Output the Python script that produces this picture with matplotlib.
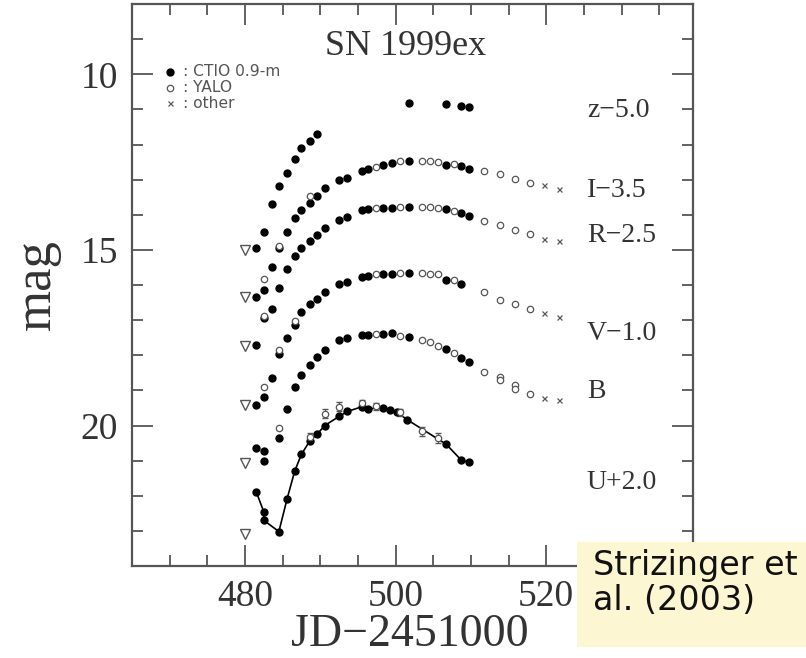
import matplotlib
matplotlib.use("Agg")
import matplotlib.pyplot as plt
from matplotlib.patches import Rectangle
from matplotlib.ticker import MultipleLocator

plt.rcParams["font.family"] = "Liberation Serif"

# --- light curve values (JD-2451000, mag) ---
# each band: CTIO 0.9-m (filled), YALO (open), other (x)
z_ctio_x = [481.5, 482.5, 483.6, 484.5, 485.6, 486.6, 487.5, 488.6, 489.6, 501.75, 506.7, 508.7, 509.7]
z_ctio_y = [14.96, 14.49, 13.68, 13.18, 12.80, 12.42, 12.10, 11.89, 11.70, 10.83, 10.86, 10.89, 10.94]

i_ctio_x = [481.5, 482.5, 483.6, 484.5, 485.6, 486.6, 487.5, 488.6, 489.6, 490.6, 492.5, 493.6,
            495.6, 496.4, 498.3, 499.5, 501.75, 506.7, 508.7, 509.7]
i_ctio_y = [16.35, 16.14, 15.49, 14.95, 14.49, 14.09, 13.87, 13.66, 13.46, 13.25, 13.01, 12.94,
            12.74, 12.69, 12.58, 12.52, 12.48, 12.58, 12.61, 12.69]
i_yalo_x = [482.5, 484.5, 488.6, 497.4, 500.6, 503.5, 504.6, 505.6, 507.7, 511.7, 513.8, 515.8, 517.8]
i_yalo_y = [15.83, 14.88, 13.48, 12.63, 12.48, 12.46, 12.48, 12.50, 12.55, 12.74, 12.84, 12.98, 13.09]
i_other_x = [519.7, 521.7]
i_other_y = [13.15, 13.27]

r_ctio_x = [481.5, 482.5, 483.6, 484.5, 485.6, 486.6, 487.5, 488.6, 489.6, 490.6, 492.5, 493.6,
            495.6, 496.4, 498.3, 499.5, 501.75, 506.7, 508.7, 509.7]
r_ctio_y = [17.71, 16.95, 16.69, 16.08, 15.54, 15.18, 14.94, 14.75, 14.58, 14.39, 14.15, 14.06,
            13.87, 13.84, 13.80, 13.80, 13.77, 13.85, 13.94, 14.03]
r_yalo_x = [482.5, 497.4, 500.6, 503.5, 504.6, 505.6, 507.7, 511.7, 513.8, 515.8, 517.8]
r_yalo_y = [16.88, 13.82, 13.79, 13.77, 13.79, 13.82, 13.89, 14.17, 14.30, 14.44, 14.56]
r_other_x = [519.7, 521.7]
r_other_y = [14.69, 14.75]

v_ctio_x = [481.5, 482.5, 483.6, 484.5, 485.6, 486.6, 487.5, 488.6, 489.6, 490.6, 492.5, 493.6,
            495.6, 496.4, 498.3, 499.5, 501.75, 506.7, 508.7]
v_ctio_y = [19.43, 19.20, 18.64, 17.95, 17.50, 17.13, 16.78, 16.54, 16.40, 16.21, 15.97, 15.92,
            15.78, 15.73, 15.68, 15.68, 15.66, 15.85, 15.97]
v_yalo_x = [482.5, 484.5, 486.6, 497.4, 500.6, 503.5, 504.6, 505.6, 507.7, 511.7, 513.8, 515.8, 517.8]
v_yalo_y = [18.91, 17.86, 17.02, 15.70, 15.66, 15.66, 15.68, 15.70, 15.87, 16.21, 16.43, 16.54, 16.69]
v_other_x = [519.7, 521.7]
v_other_y = [16.81, 16.91]

b_ctio_x = [481.5, 482.5, 482.5, 484.5, 485.6, 486.6, 487.5, 488.6, 489.6, 490.6, 492.5, 493.6,
            495.6, 496.4, 498.3, 499.5, 501.75, 506.7, 508.7, 509.7]
b_ctio_y = [20.65, 20.73, 21.01, 20.36, 19.52, 18.91, 18.57, 18.28, 18.05, 17.85, 17.57, 17.50,
            17.42, 17.41, 17.40, 17.38, 17.48, 17.83, 18.09, 18.19]
b_yalo_x = [484.5, 497.4, 500.6, 503.5, 504.6, 505.6, 507.7, 511.7, 513.8, 513.8, 515.8, 515.8, 517.8]
b_yalo_y = [20.08, 17.40, 17.45, 17.57, 17.61, 17.74, 17.93, 18.47, 18.62, 18.70, 18.86, 18.96, 19.10]
b_other_x = [519.7, 521.7]
b_other_y = [19.21, 19.27]

u_ctio_x = [481.5, 482.5, 482.5, 484.5, 485.6, 486.6, 487.5, 488.6, 489.6, 490.6, 492.5, 493.6,
            495.6, 496.4, 498.3, 499.3, 500.2, 501.5, 506.7, 508.7, 509.7]
u_ctio_y = [21.89, 22.46, 22.70, 23.02, 22.08, 21.30, 20.82, 20.44, 20.24, 20.00, 19.74, 19.60,
            19.46, 19.52, 19.50, 19.56, 19.62, 19.83, 20.53, 20.98, 21.05]
u_yalo_x = [488.6, 490.6, 492.5, 495.6, 497.4, 500.6, 503.5, 505.6]
u_yalo_y = [20.32, 19.66, 19.46, 19.37, 19.45, 19.62, 20.17, 20.36]
u_yalo_err = [0.12, 0.12, 0.12, 0.10, 0.10, 0.10, 0.14, 0.14]

# pre-discovery upper limits (z, I, R, V, B, U)
lim_x = [480, 480, 480, 480, 480, 480]
lim_y = [15.00, 16.35, 17.74, 19.41, 21.08, 23.09]

band_labels = ["z\u22125.0", "I\u22123.5", "R\u22122.5", "V\u22121.0", "B", "U+2.0"]
band_label_y = [11.02, 13.30, 14.60, 17.39, 19.03, 21.62]

legend_names = [": CTIO 0.9-m", ": YALO", ": other"]

# --- figure ---
fig = plt.figure(figsize=(8.06, 6.58), dpi=100)
ax = fig.add_axes([0.1638, 0.1398, 0.6961, 0.8541])

gray = "#555555"
filled = dict(ls="none", marker="o", ms=5, color="black", mec="black")
opened = dict(ls="none", marker="o", ms=4.6, mfc="white", mec=gray, mew=0.9)
crossed = dict(ls="none", marker="x", ms=3.6, color=gray, mew=0.9)

ax.plot(u_ctio_x, u_ctio_y, "-", color="black", lw=1.2, zorder=2)
ax.errorbar(u_yalo_x, u_yalo_y, yerr=u_yalo_err, fmt="none", ecolor=gray, elinewidth=0.8,
            capsize=2, zorder=2)

for cx, cy in [(z_ctio_x, z_ctio_y), (i_ctio_x, i_ctio_y), (r_ctio_x, r_ctio_y),
               (v_ctio_x, v_ctio_y), (b_ctio_x, b_ctio_y), (u_ctio_x, u_ctio_y)]:
    ax.plot(cx, cy, zorder=3, **filled)
for ox, oy in [(i_yalo_x, i_yalo_y), (r_yalo_x, r_yalo_y), (v_yalo_x, v_yalo_y),
               (b_yalo_x, b_yalo_y), (u_yalo_x, u_yalo_y)]:
    ax.plot(ox, oy, zorder=3, **opened)
for xx, xy in [(i_other_x, i_other_y), (r_other_x, r_other_y), (v_other_x, v_other_y),
               (b_other_x, b_other_y)]:
    ax.plot(xx, xy, zorder=3, **crossed)

ax.plot(lim_x, lim_y, ls="none", marker="v", ms=7, mfc="white", mec=gray, mew=1.0, zorder=3)

for lab, ly in zip(band_labels, band_label_y):
    ax.text(525.4, ly, lab, fontsize=20, color="#333333", va="center", ha="left")

ax.text(501.3, 9.22, "SN 1999ex", fontsize=26, color="#333333", ha="center", va="center")

# hand-made legend at upper left
ax.plot([470], [9.93], **filled)
ax.plot([470], [10.38], **opened)
ax.plot([470], [10.83], **crossed)
for name, ly in zip(legend_names, [9.93, 10.38, 10.83]):
    ax.text(471.8, ly, name, fontsize=11.2, color="#555555", va="center", ha="left",
            family="DejaVu Sans")

ax.set_xlim(465, 539.5)
ax.set_ylim(24, 8)
ax.xaxis.set_major_locator(MultipleLocator(20))
ax.xaxis.set_minor_locator(MultipleLocator(5))
ax.yaxis.set_major_locator(MultipleLocator(5))
ax.yaxis.set_minor_locator(MultipleLocator(1))
ax.tick_params(which="both", direction="in", top=True, right=True, color=gray, width=1.3,
               labelsize=27, labelcolor="#333333")
ax.tick_params(which="major", length=15, pad=10)
ax.tick_params(which="minor", length=8)
for sp in ax.spines.values():
    sp.set_color(gray)
    sp.set_linewidth(1.6)

ax.set_xlabel("JD\u22122451000", fontsize=33, color="#333333")
ax.xaxis.set_label_coords(0.496, -0.085)
ax.set_ylabel("mag", fontsize=38, color="#333333", labelpad=14)

# citation box
fig.patches.append(Rectangle((0.716, 0.0167), 0.3, 0.1596, transform=fig.transFigure,
                             facecolor="#fdf6d2", edgecolor="none", zorder=10))
fig.text(0.7357, 0.114, "Strizinger et\nal. (2003)", fontsize=24, color="#111111",
         family="DejaVu Sans", ha="left", va="center", linespacing=1.05, zorder=11)

fig.savefig("out.png", dpi=100)
